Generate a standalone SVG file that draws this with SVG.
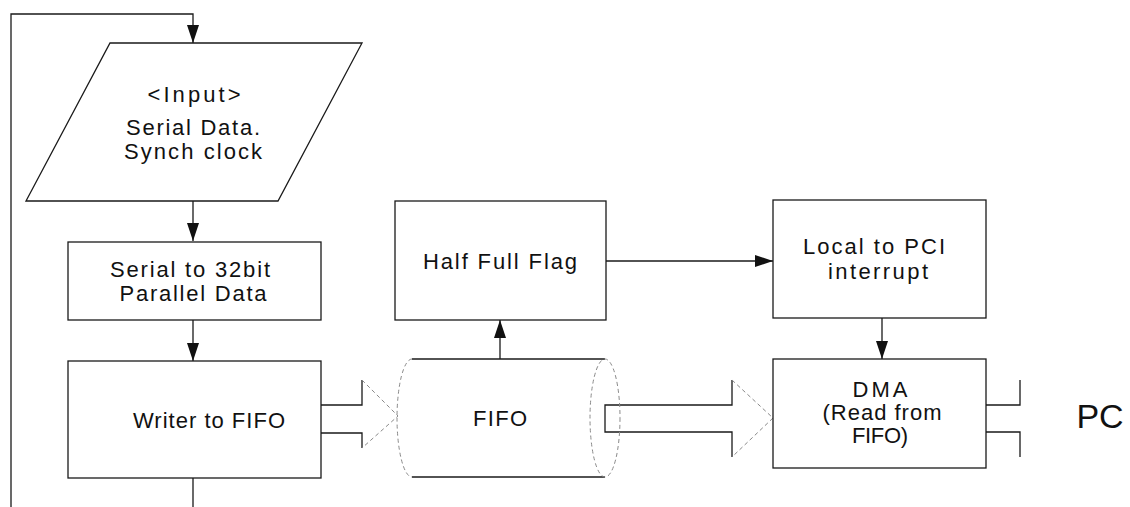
<svg xmlns="http://www.w3.org/2000/svg" width="1130" height="507" viewBox="0 0 1130 507">
<style>
.box{fill:#fff;stroke:#1a1a1a;stroke-width:1.3}
.ln{fill:none;stroke:#1a1a1a;stroke-width:1.3}
.faint{fill:none;stroke:#8a8a8a;stroke-width:1;stroke-dasharray:4 3}
.t{font-family:"Liberation Sans",Arial,sans-serif;font-size:22px;fill:#111;text-anchor:middle}
</style>
<defs>
<marker id="ah" markerUnits="userSpaceOnUse" markerWidth="18" markerHeight="12" refX="18" refY="6" orient="auto">
<path d="M0,0 L18,6 L0,12 z" fill="#111"/>
</marker>
</defs>
<g id="connectors">
<polyline class="ln" points="11,507 11,14 193,14 193,43" marker-end="url(#ah)"/>
<line class="ln" x1="193" y1="201" x2="193" y2="241" marker-end="url(#ah)"/>
<line class="ln" x1="193" y1="320" x2="193" y2="361" marker-end="url(#ah)"/>
<line class="ln" x1="193" y1="478" x2="193" y2="507"/>
<line class="ln" x1="500" y1="359" x2="500" y2="320" marker-end="url(#ah)"/>
<line class="ln" x1="606" y1="261" x2="773" y2="261" marker-end="url(#ah)"/>
<line class="ln" x1="882" y1="318" x2="882" y2="359" marker-end="url(#ah)"/>
<g id="arrow-writer-fifo">
<polyline class="ln" points="321,405 362,405 362,380"/>
<polyline class="ln" points="321,433 362,433 362,448"/>
<polyline class="faint" points="362,380 398,416 362,448"/>
</g>
<g id="arrow-fifo-dma">
<polyline class="ln" points="732,380 732,405 605,405 605,432 732,432 732,457"/>
<polyline class="faint" points="732,380 773,418 732,457"/>
</g>
<g id="arrow-dma-pc">
<polyline class="ln" points="986,405 1020,405 1020,380"/>
<polyline class="ln" points="986,432 1020,432 1020,457"/>
</g>
</g>
<g id="input">
<polygon class="box" points="110,43 362,43 278,201 26,201"/>
<text class="t" x="194" y="102" textLength="93" lengthAdjust="spacing">&lt;Input&gt;</text>
<text class="t" x="193" y="135" textLength="134" lengthAdjust="spacing">Serial Data.</text>
<text class="t" x="193" y="159" textLength="138" lengthAdjust="spacing">Synch clock</text>
</g>
<g id="serial">
<rect class="box" x="68" y="242" width="253" height="78"/>
<text class="t" x="190" y="277" textLength="160" lengthAdjust="spacing">Serial to 32bit</text>
<text class="t" x="193" y="301" textLength="147" lengthAdjust="spacing">Parallel Data</text>
</g>
<g id="writer">
<rect class="box" x="68" y="361" width="253" height="117"/>
<text class="t" x="209" y="428" textLength="152" lengthAdjust="spacing">Writer to FIFO</text>
</g>
<g id="halfflag">
<rect class="box" x="395" y="201" width="211" height="119"/>
<text class="t" x="500" y="269" textLength="154" lengthAdjust="spacing">Half Full Flag</text>
</g>
<g id="fifo">
<line class="ln" x1="412" y1="359" x2="605" y2="359"/>
<line class="ln" x1="412" y1="477" x2="605" y2="477"/>
<path class="faint" d="M412,359 A15,59 0 0 0 412,477"/>
<ellipse class="faint" cx="605" cy="418" rx="15" ry="59"/>
<text class="t" x="500" y="426" textLength="54" lengthAdjust="spacing">FIFO</text>
</g>
<g id="local">
<rect class="box" x="773" y="200" width="213" height="118"/>
<text class="t" x="874" y="254" textLength="142" lengthAdjust="spacing">Local to PCI</text>
<text class="t" x="878" y="279" textLength="100" lengthAdjust="spacing">interrupt</text>
</g>
<g id="dma">
<rect class="box" x="773" y="359" width="213" height="109"/>
<text class="t" x="880" y="397" textLength="55" lengthAdjust="spacing">DMA</text>
<text class="t" x="882" y="420" textLength="119" lengthAdjust="spacing">(Read from</text>
<text class="t" x="880" y="443" textLength="56" lengthAdjust="spacing">FIFO)</text>
</g>
<g id="pc">
<text class="t" x="1100" y="428" style="font-size:34px">PC</text>
</g>
</svg>
